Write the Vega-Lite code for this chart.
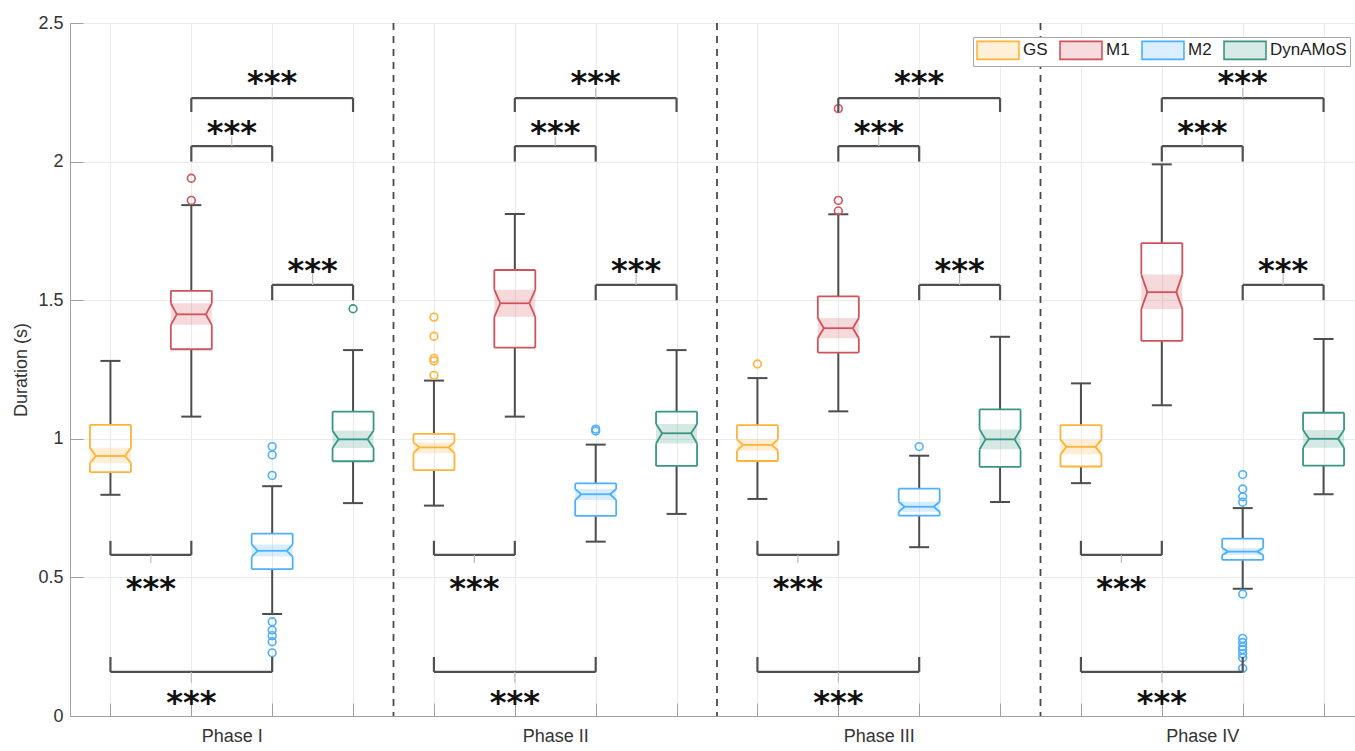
{
"$schema": "https://vega.github.io/schema/vega-lite/v6.json",
"width": 1294,
"height": 693,
"autosize": "none",
"padding": {"left": 70, "top": 23, "right": 0, "bottom": 35},
"config": {
  "view": {"stroke": "#b8b8b8", "strokeWidth": 1},
  "font": "Liberation Sans",
  "axis": {"labelFont": "Liberation Sans", "titleFont": "Liberation Sans"}
},
"datasets": {
  "dividers": [{"x": 4.5}, {"x": 8.5}, {"x": 12.5}],
  "boxes": [
    {"phase": "Phase I", "pos": 1, "group": "GS", "q1": 0.880, "med": 0.938, "q3": 1.050, "nlo": 0.913, "nhi": 0.968, "wlo": 0.798, "whi": 1.281},
    {"phase": "Phase I", "pos": 2, "group": "M1", "q1": 1.323, "med": 1.449, "q3": 1.534, "nlo": 1.411, "nhi": 1.489, "wlo": 1.080, "whi": 1.843},
    {"phase": "Phase I", "pos": 3, "group": "M2", "q1": 0.530, "med": 0.596, "q3": 0.658, "nlo": 0.575, "nhi": 0.619, "wlo": 0.368, "whi": 0.829},
    {"phase": "Phase I", "pos": 4, "group": "DynAMoS", "q1": 0.919, "med": 0.998, "q3": 1.098, "nlo": 0.967, "nhi": 1.029, "wlo": 0.768, "whi": 1.320},
    {"phase": "Phase II", "pos": 5, "group": "GS", "q1": 0.887, "med": 0.969, "q3": 1.018, "nlo": 0.948, "nhi": 0.987, "wlo": 0.759, "whi": 1.210},
    {"phase": "Phase II", "pos": 6, "group": "M1", "q1": 1.329, "med": 1.489, "q3": 1.609, "nlo": 1.440, "nhi": 1.538, "wlo": 1.080, "whi": 1.811},
    {"phase": "Phase II", "pos": 7, "group": "M2", "q1": 0.722, "med": 0.800, "q3": 0.839, "nlo": 0.779, "nhi": 0.819, "wlo": 0.629, "whi": 0.979},
    {"phase": "Phase II", "pos": 8, "group": "DynAMoS", "q1": 0.902, "med": 1.020, "q3": 1.098, "nlo": 0.983, "nhi": 1.053, "wlo": 0.729, "whi": 1.320},
    {"phase": "Phase III", "pos": 9, "group": "GS", "q1": 0.920, "med": 0.978, "q3": 1.049, "nlo": 0.957, "nhi": 0.998, "wlo": 0.783, "whi": 1.219},
    {"phase": "Phase III", "pos": 10, "group": "M1", "q1": 1.311, "med": 1.399, "q3": 1.514, "nlo": 1.363, "nhi": 1.436, "wlo": 1.099, "whi": 1.810},
    {"phase": "Phase III", "pos": 11, "group": "M2", "q1": 0.723, "med": 0.755, "q3": 0.820, "nlo": 0.737, "nhi": 0.773, "wlo": 0.609, "whi": 0.939},
    {"phase": "Phase III", "pos": 12, "group": "DynAMoS", "q1": 0.899, "med": 0.998, "q3": 1.106, "nlo": 0.962, "nhi": 1.034, "wlo": 0.772, "whi": 1.368},
    {"phase": "Phase IV", "pos": 13, "group": "GS", "q1": 0.900, "med": 0.971, "q3": 1.049, "nlo": 0.944, "nhi": 0.997, "wlo": 0.840, "whi": 1.200},
    {"phase": "Phase IV", "pos": 14, "group": "M1", "q1": 1.353, "med": 1.529, "q3": 1.706, "nlo": 1.468, "nhi": 1.593, "wlo": 1.121, "whi": 1.990},
    {"phase": "Phase IV", "pos": 15, "group": "M2", "q1": 0.563, "med": 0.593, "q3": 0.640, "nlo": 0.581, "nhi": 0.606, "wlo": 0.459, "whi": 0.750},
    {"phase": "Phase IV", "pos": 16, "group": "DynAMoS", "q1": 0.903, "med": 1.000, "q3": 1.094, "nlo": 0.968, "nhi": 1.032, "wlo": 0.800, "whi": 1.360}
  ],
  "outliers": [
    {"pos": 2, "group": "M1", "v": 1.94}, {"pos": 2, "group": "M1", "v": 1.86},
    {"pos": 3, "group": "M2", "v": 0.972}, {"pos": 3, "group": "M2", "v": 0.942}, {"pos": 3, "group": "M2", "v": 0.868},
    {"pos": 3, "group": "M2", "v": 0.340}, {"pos": 3, "group": "M2", "v": 0.310}, {"pos": 3, "group": "M2", "v": 0.290},
    {"pos": 3, "group": "M2", "v": 0.268}, {"pos": 3, "group": "M2", "v": 0.228},
    {"pos": 4, "group": "DynAMoS", "v": 1.469},
    {"pos": 5, "group": "GS", "v": 1.439}, {"pos": 5, "group": "GS", "v": 1.370}, {"pos": 5, "group": "GS", "v": 1.290},
    {"pos": 5, "group": "GS", "v": 1.281}, {"pos": 5, "group": "GS", "v": 1.229},
    {"pos": 7, "group": "M2", "v": 1.035}, {"pos": 7, "group": "M2", "v": 1.028},
    {"pos": 9, "group": "GS", "v": 1.270},
    {"pos": 10, "group": "M1", "v": 2.191}, {"pos": 10, "group": "M1", "v": 1.860}, {"pos": 10, "group": "M1", "v": 1.822},
    {"pos": 11, "group": "M2", "v": 0.972},
    {"pos": 15, "group": "M2", "v": 0.871}, {"pos": 15, "group": "M2", "v": 0.819}, {"pos": 15, "group": "M2", "v": 0.791},
    {"pos": 15, "group": "M2", "v": 0.771}, {"pos": 15, "group": "M2", "v": 0.440}, {"pos": 15, "group": "M2", "v": 0.280},
    {"pos": 15, "group": "M2", "v": 0.265}, {"pos": 15, "group": "M2", "v": 0.250}, {"pos": 15, "group": "M2", "v": 0.240},
    {"pos": 15, "group": "M2", "v": 0.225}, {"pos": 15, "group": "M2", "v": 0.210}, {"pos": 15, "group": "M2", "v": 0.172}
  ],
  "brackets": [
    {"x1": 1, "x2": 2, "xc": 1.5, "y": 0.581, "yleg": 0.632, "ystem": 0.552, "ystar": 0.491, "label": "***"},
    {"x1": 1, "x2": 3, "xc": 2, "y": 0.159, "yleg": 0.213, "ystem": 0.12, "ystar": 0.08, "label": "***"},
    {"x1": 3, "x2": 4, "xc": 3.5, "y": 1.555, "yleg": 1.50, "ystem": 1.605, "ystar": 1.639, "label": "***"},
    {"x1": 2, "x2": 3, "xc": 2.5, "y": 2.056, "yleg": 2.0, "ystem": 2.09, "ystar": 2.136, "label": "***"},
    {"x1": 2, "x2": 4, "xc": 3, "y": 2.229, "yleg": 2.179, "ystem": 2.265, "ystar": 2.316, "label": "***"},
    {"x1": 5, "x2": 6, "xc": 5.5, "y": 0.581, "yleg": 0.632, "ystem": 0.552, "ystar": 0.491, "label": "***"},
    {"x1": 5, "x2": 7, "xc": 6, "y": 0.159, "yleg": 0.213, "ystem": 0.12, "ystar": 0.08, "label": "***"},
    {"x1": 7, "x2": 8, "xc": 7.5, "y": 1.555, "yleg": 1.50, "ystem": 1.605, "ystar": 1.639, "label": "***"},
    {"x1": 6, "x2": 7, "xc": 6.5, "y": 2.056, "yleg": 2.0, "ystem": 2.09, "ystar": 2.136, "label": "***"},
    {"x1": 6, "x2": 8, "xc": 7, "y": 2.229, "yleg": 2.179, "ystem": 2.265, "ystar": 2.316, "label": "***"},
    {"x1": 9, "x2": 10, "xc": 9.5, "y": 0.581, "yleg": 0.632, "ystem": 0.552, "ystar": 0.491, "label": "***"},
    {"x1": 9, "x2": 11, "xc": 10, "y": 0.159, "yleg": 0.213, "ystem": 0.12, "ystar": 0.08, "label": "***"},
    {"x1": 11, "x2": 12, "xc": 11.5, "y": 1.555, "yleg": 1.50, "ystem": 1.605, "ystar": 1.639, "label": "***"},
    {"x1": 10, "x2": 11, "xc": 10.5, "y": 2.056, "yleg": 2.0, "ystem": 2.09, "ystar": 2.136, "label": "***"},
    {"x1": 10, "x2": 12, "xc": 11, "y": 2.229, "yleg": 2.179, "ystem": 2.265, "ystar": 2.316, "label": "***"},
    {"x1": 13, "x2": 14, "xc": 13.5, "y": 0.581, "yleg": 0.632, "ystem": 0.552, "ystar": 0.491, "label": "***"},
    {"x1": 13, "x2": 15, "xc": 14, "y": 0.159, "yleg": 0.213, "ystem": 0.12, "ystar": 0.08, "label": "***"},
    {"x1": 15, "x2": 16, "xc": 15.5, "y": 1.555, "yleg": 1.50, "ystem": 1.605, "ystar": 1.639, "label": "***"},
    {"x1": 14, "x2": 15, "xc": 14.5, "y": 2.056, "yleg": 2.0, "ystem": 2.09, "ystar": 2.136, "label": "***"},
    {"x1": 14, "x2": 16, "xc": 15, "y": 2.229, "yleg": 2.179, "ystem": 2.265, "ystar": 2.316, "label": "***"}
  ]
},
"layer": [
  {
    "data": {"name": "boxes"},
    "mark": {"type": "bar", "width": 41, "fillOpacity": 0.22, "strokeWidth": 0},
    "encoding": {
      "x": {"field": "pos", "type": "quantitative", "scale": {"domain": [0.5, 16.5], "nice": false, "zero": false, "padding": 0},
        "axis": {"title": null, "values": [1,2,3,4,5,6,7,8,9,10,11,12,13,14,15,16],
          "grid": true, "gridColor": "#ebebeb", "gridWidth": 1,
          "labelExpr": "datum.value === 2 ? 'Phase I' : datum.value === 6 ? 'Phase II' : datum.value === 10 ? 'Phase III' : datum.value === 14 ? 'Phase IV' : ''",
          "labelOffset": 40.4, "labelOverlap": false, "labelFlush": false, "labelBound": false,
          "tickSize": -13, "tickColor": "#a0a0a0", "domainColor": "#a0a0a0",
          "labelFontSize": 18, "labelColor": "#333333", "labelPadding": 24}},
      "y": {"field": "nlo", "type": "quantitative", "scale": {"domain": [0, 2.5], "nice": false, "zero": false, "padding": 0},
        "axis": {"title": "Duration (s)", "values": [0, 0.5, 1, 1.5, 2, 2.5], "format": "~g",
          "grid": true, "gridColor": "#ebebeb", "tickSize": -13, "tickColor": "#a0a0a0", "domainColor": "#a0a0a0",
          "labelFontSize": 18, "labelColor": "#333333", "labelPadding": 20,
          "titleFontSize": 18, "titleFontWeight": "normal", "titleColor": "#333333", "titlePadding": 7}},
      "y2": {"field": "nhi"},
      "color": {"field": "group", "type": "nominal",
        "scale": {"domain": ["GS", "M1", "M2", "DynAMoS"], "range": ["#FFB338", "#D0525A", "#4DB0FF", "#3A9682"]},
        "legend": {"title": null, "orient": "top-right", "direction": "horizontal", "offset": 14,
          "strokeColor": "#a8a8a8", "fillColor": "white", "padding": 3,
          "labelFontSize": 17, "labelColor": "#222222", "labelFont": "Liberation Sans", "labelOffset": 15,
          "symbolType": "M-2.33,-1H2.33V1H-2.33Z", "symbolSize": 324, "symbolOffset": 12, "columnPadding": 8,
          "encode": {"symbols": {"update": {
            "fill": {"scale": "color", "field": "value"},
            "stroke": {"scale": "color", "field": "value"},
            "fillOpacity": {"value": 0.2}, "strokeOpacity": {"value": 1}, "strokeWidth": {"value": 1.6}, "opacity": {"value": 1}}}}}}
    }
  },
  {
    "data": {"name": "dividers"},
    "mark": {"type": "rule", "color": "#4a4a4a", "strokeWidth": 1.8, "strokeDash": [7, 6]},
    "encoding": {
      "x": {"field": "x", "type": "quantitative"}
    }
  },
  {
    "data": {"name": "boxes"},
    "mark": {"type": "rule", "color": "#4d4d4d", "strokeWidth": 2},
    "encoding": {
      "x": {"field": "pos", "type": "quantitative"},
      "y": {"field": "q3", "type": "quantitative"},
      "y2": {"field": "whi"}
    }
  },
  {
    "data": {"name": "boxes"},
    "mark": {"type": "rule", "color": "#4d4d4d", "strokeWidth": 2},
    "encoding": {
      "x": {"field": "pos", "type": "quantitative"},
      "y": {"field": "q1", "type": "quantitative"},
      "y2": {"field": "wlo"}
    }
  },
  {
    "data": {"name": "boxes"},
    "mark": {"type": "rule", "color": "#4d4d4d", "strokeWidth": 2, "xOffset": -10, "x2Offset": 10},
    "encoding": {
      "x": {"field": "pos", "type": "quantitative"},
      "x2": {"field": "pos"},
      "y": {"field": "whi", "type": "quantitative"}
    }
  },
  {
    "data": {"name": "boxes"},
    "mark": {"type": "rule", "color": "#4d4d4d", "strokeWidth": 2, "xOffset": -10, "x2Offset": 10},
    "encoding": {
      "x": {"field": "pos", "type": "quantitative"},
      "x2": {"field": "pos"},
      "y": {"field": "wlo", "type": "quantitative"}
    }
  },
  {
    "data": {"name": "boxes"},
    "mark": {"type": "rule", "strokeWidth": 1.8, "xOffset": -20.5, "x2Offset": 20.5},
    "encoding": {
      "x": {"field": "pos", "type": "quantitative"},
      "x2": {"field": "pos"},
      "y": {"field": "q3", "type": "quantitative"},
      "color": {"field": "group", "type": "nominal"}
    }
  },
  {
    "data": {"name": "boxes"},
    "mark": {"type": "rule", "strokeWidth": 1.8, "xOffset": -20.5, "x2Offset": 20.5},
    "encoding": {
      "x": {"field": "pos", "type": "quantitative"},
      "x2": {"field": "pos"},
      "y": {"field": "q1", "type": "quantitative"},
      "color": {"field": "group", "type": "nominal"}
    }
  },
  {
    "data": {"name": "boxes"},
    "mark": {"type": "rule", "strokeWidth": 1.8, "xOffset": -14.5, "x2Offset": 14.5},
    "encoding": {
      "x": {"field": "pos", "type": "quantitative"},
      "x2": {"field": "pos"},
      "y": {"field": "med", "type": "quantitative"},
      "color": {"field": "group", "type": "nominal"}
    }
  },
  {
    "data": {"name": "boxes"},
    "mark": {"type": "rule", "strokeWidth": 1.8, "xOffset": 20.5},
    "encoding": {
      "x": {"field": "pos", "type": "quantitative"},
      "y": {"field": "q3", "type": "quantitative"},
      "y2": {"field": "nhi"},
      "color": {"field": "group", "type": "nominal"}
    }
  },
  {
    "data": {"name": "boxes"},
    "mark": {"type": "rule", "strokeWidth": 1.8, "xOffset": 20.5},
    "encoding": {
      "x": {"field": "pos", "type": "quantitative"},
      "y": {"field": "nlo", "type": "quantitative"},
      "y2": {"field": "q1"},
      "color": {"field": "group", "type": "nominal"}
    }
  },
  {
    "data": {"name": "boxes"},
    "mark": {"type": "rule", "strokeWidth": 1.8, "xOffset": -20.5},
    "encoding": {
      "x": {"field": "pos", "type": "quantitative"},
      "y": {"field": "q3", "type": "quantitative"},
      "y2": {"field": "nhi"},
      "color": {"field": "group", "type": "nominal"}
    }
  },
  {
    "data": {"name": "boxes"},
    "mark": {"type": "rule", "strokeWidth": 1.8, "xOffset": -20.5},
    "encoding": {
      "x": {"field": "pos", "type": "quantitative"},
      "y": {"field": "nlo", "type": "quantitative"},
      "y2": {"field": "q1"},
      "color": {"field": "group", "type": "nominal"}
    }
  },
  {
    "data": {"name": "boxes"},
    "mark": {"type": "rule", "strokeWidth": 1.8, "xOffset": 20.5, "x2Offset": 14.5},
    "encoding": {
      "x": {"field": "pos", "type": "quantitative"},
      "x2": {"field": "pos"},
      "y": {"field": "nhi", "type": "quantitative"},
      "y2": {"field": "med"},
      "color": {"field": "group", "type": "nominal"}
    }
  },
  {
    "data": {"name": "boxes"},
    "mark": {"type": "rule", "strokeWidth": 1.8, "xOffset": 14.5, "x2Offset": 20.5},
    "encoding": {
      "x": {"field": "pos", "type": "quantitative"},
      "x2": {"field": "pos"},
      "y": {"field": "med", "type": "quantitative"},
      "y2": {"field": "nlo"},
      "color": {"field": "group", "type": "nominal"}
    }
  },
  {
    "data": {"name": "boxes"},
    "mark": {"type": "rule", "strokeWidth": 1.8, "xOffset": -20.5, "x2Offset": -14.5},
    "encoding": {
      "x": {"field": "pos", "type": "quantitative"},
      "x2": {"field": "pos"},
      "y": {"field": "nhi", "type": "quantitative"},
      "y2": {"field": "med"},
      "color": {"field": "group", "type": "nominal"}
    }
  },
  {
    "data": {"name": "boxes"},
    "mark": {"type": "rule", "strokeWidth": 1.8, "xOffset": -14.5, "x2Offset": -20.5},
    "encoding": {
      "x": {"field": "pos", "type": "quantitative"},
      "x2": {"field": "pos"},
      "y": {"field": "med", "type": "quantitative"},
      "y2": {"field": "nlo"},
      "color": {"field": "group", "type": "nominal"}
    }
  },
  {
    "data": {"name": "outliers"},
    "mark": {"type": "point", "shape": "circle", "filled": false, "size": 60, "strokeWidth": 1.6, "opacity": 1},
    "encoding": {
      "x": {"field": "pos", "type": "quantitative"},
      "y": {"field": "v", "type": "quantitative"},
      "color": {"field": "group", "type": "nominal"}
    }
  },
  {
    "data": {"name": "brackets"},
    "mark": {"type": "rule", "color": "#505050", "strokeWidth": 2.2},
    "encoding": {
      "x": {"field": "x1", "type": "quantitative"},
      "x2": {"field": "x2"},
      "y": {"field": "y", "type": "quantitative"}
    }
  },
  {
    "data": {"name": "brackets"},
    "mark": {"type": "rule", "color": "#505050", "strokeWidth": 2.2},
    "encoding": {
      "x": {"field": "x1", "type": "quantitative"},
      "y": {"field": "y", "type": "quantitative"},
      "y2": {"field": "yleg"}
    }
  },
  {
    "data": {"name": "brackets"},
    "mark": {"type": "rule", "color": "#505050", "strokeWidth": 2.2},
    "encoding": {
      "x": {"field": "x2", "type": "quantitative"},
      "y": {"field": "y", "type": "quantitative"},
      "y2": {"field": "yleg"}
    }
  },
  {
    "data": {"name": "brackets"},
    "mark": {"type": "rule", "color": "#bdbdbd", "strokeWidth": 1.2},
    "encoding": {
      "x": {"field": "xc", "type": "quantitative"},
      "y": {"field": "y", "type": "quantitative"},
      "y2": {"field": "ystem"}
    }
  },
  {
    "data": {"name": "brackets"},
    "mark": {"type": "text", "font": "DejaVu Sans", "fontSize": 32, "fontWeight": "bold", "color": "#111111", "align": "center", "baseline": "alphabetic", "dy": 19},
    "encoding": {
      "x": {"field": "xc", "type": "quantitative"},
      "y": {"field": "ystar", "type": "quantitative"},
      "text": {"field": "label"}
    }
  }
]
}
